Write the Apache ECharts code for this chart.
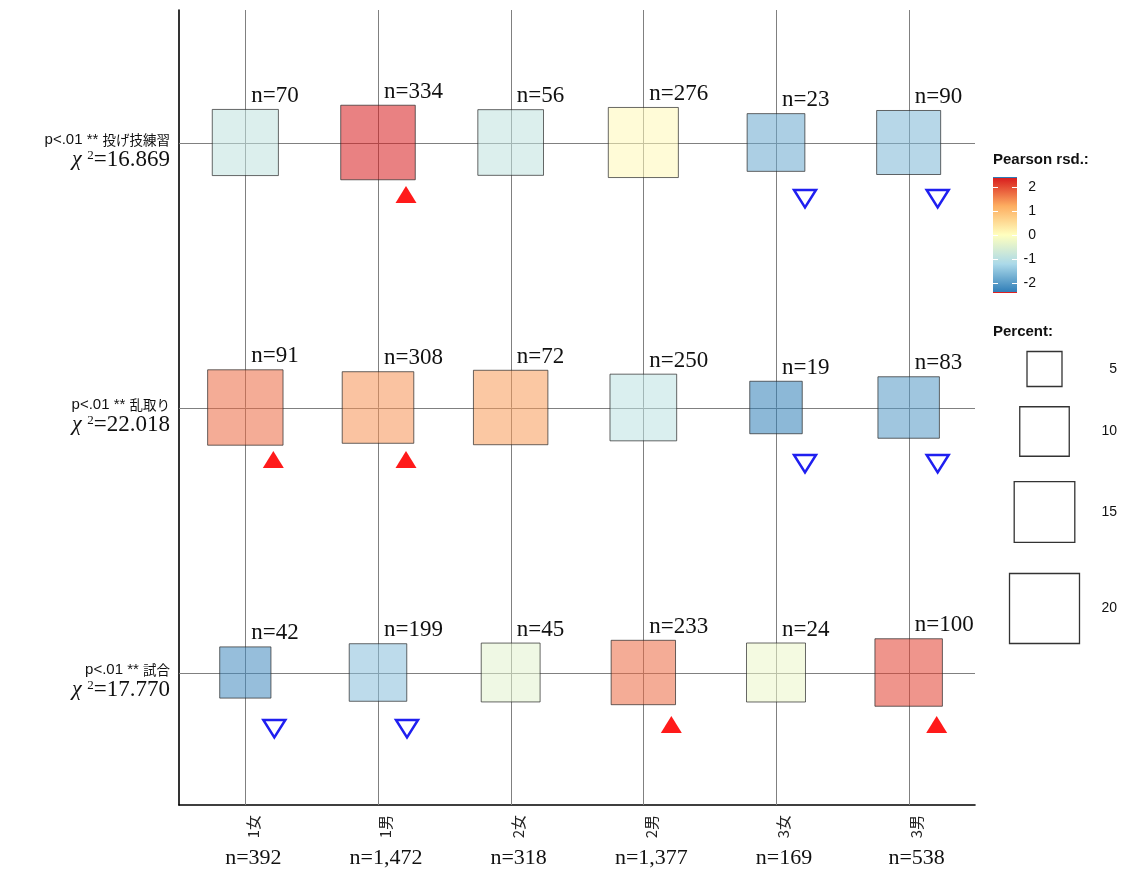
<!DOCTYPE html>
<html>
<head>
<meta charset="utf-8">
<script src="https://cdn.jsdelivr.net/npm/echarts@6/dist/echarts.min.js"></script>
<style>
  html, body { margin: 0; padding: 0; background: #ffffff; }
  #chart { width: 1123px; height: 870px; }
</style>
</head>
<body>
<div id="chart"></div>
<script>
// ---- data ----
const groups = ['1女', '1男', '2女', '2男', '3女', '3男'];
const groupTotals = [392, 1472, 318, 1377, 169, 538];

const items = ['投げ技練習', '乱取り', '試合'];
const itemSignif = ['p<.01 **', 'p<.01 **', 'p<.01 **'];
const itemChiSq = ['16.869', '22.018', '17.770'];

// counts per group for each practice item
const countsPractice = [70, 334, 56, 276, 23, 90];
const countsRandori  = [91, 308, 72, 250, 19, 83];
const countsMatch    = [42, 199, 45, 233, 24, 100];

// Pearson residuals per cell
const residPractice = [-0.91, 2.40, -0.92, 0.12, -1.83, -1.65];
const residRandori  = [1.77, 1.43, 1.36, -0.96, -2.38, -2.04];
const residMatch    = [-2.22, -1.54, -0.42, 1.77, -0.29, 2.10];

// significance markers: 1 = above expected, -1 = below expected, 0 = none
const sigPractice = [0, 1, 0, 0, -1, -1];
const sigRandori  = [1, 1, 0, 0, -1, -1];
const sigMatch    = [-1, -1, 0, 1, 0, 1];

const residTicks = [2, 1, 0, -1, -2];
const percentKeys = [5, 10, 15, 20];

// ---- scales / styling ----
const RESID_LIMIT = 2.4;
const PALETTE = ['#2C7BB6', '#ABD9E9', '#FFFFBF', '#FDAE61', '#D7191C'];
const CELL_SCALE = 15.65;   // px of square side per sqrt(percent)
const CELL_ALPHA = 0.55;
const SERIF = '"Liberation Serif", "DejaVu Serif", serif';
const SANS = '"Liberation Sans", Arial, sans-serif';
const CJK = '"Noto Sans CJK JP", sans-serif';

const countRows = [countsPractice, countsRandori, countsMatch];
const residRows = [residPractice, residRandori, residMatch];
const sigRows = [sigPractice, sigRandori, sigMatch];

const cellData = [];
countRows.forEach((row, r) => {
  row.forEach((n, c) => {
    const pct = n / groupTotals[c] * 100;
    cellData.push([c, r, residRows[r][c], pct, n, sigRows[r][c]]);
  });
});

function renderVGuide(params, api) {
  const cs = params.coordSys;
  const x = Math.round(api.coord([api.value(0), 0])[0]) + 0.5;
  return { type: 'line', shape: { x1: x, y1: cs.y, x2: x, y2: cs.y + cs.height },
           style: { stroke: '#808080', lineWidth: 1 }, silent: true };
}
function renderHGuide(params, api) {
  const cs = params.coordSys;
  const y = Math.round(api.coord([0, api.value(1)])[1]) + 0.5;
  return { type: 'line', shape: { x1: cs.x, y1: y, x2: cs.x + cs.width, y2: y },
           style: { stroke: '#808080', lineWidth: 1 }, silent: true };
}

function renderCell(params, api) {
  const c = api.coord([api.value(0), api.value(1)]);
  const side = CELL_SCALE * Math.sqrt(api.value(3));
  const fill = echarts.color.modifyAlpha(api.visual('color'), CELL_ALPHA);
  const top = c[1] - side / 2;
  const children = [
    { type: 'rect', shape: { x: c[0] - side / 2, y: top, width: side, height: side },
      style: { fill: fill, stroke: 'rgba(40,40,40,0.7)', lineWidth: 1 } },
    { type: 'text', x: c[0] + 6, y: top - 2,
      style: { text: 'n=' + api.value(4), font: '23px ' + SERIF, fill: '#111',
               align: 'left', verticalAlign: 'bottom' } }
  ];
  const sig = api.value(5);
  if (sig > 0) {
    const cx = c[0] + 28, cy = c[1] + 52;
    children.push({ type: 'polygon',
      shape: { points: [[cx - 10.5, cy + 8.5], [cx + 10.5, cy + 8.5], [cx, cy - 8.5]] },
      style: { fill: '#FF1A1A' } });
  } else if (sig < 0) {
    const cx = c[0] + 29, cy = c[1] + 56;
    children.push({ type: 'polygon',
      shape: { points: [[cx - 11, cy - 8.5], [cx + 11, cy - 8.5], [cx, cy + 9]] },
      style: { fill: 'none', stroke: '#1F1FF0', lineWidth: 2.5, lineJoin: 'miter' } });
  }
  return { type: 'group', children: children };
}

// ---- legends (drawn as graphics) ----
const barX = 993, barY = 177, barW = 24, barH = 116;
const gradStops = PALETTE.slice().reverse().map((col, i) => ({ offset: i / (PALETTE.length - 1), color: col }));
const legendGraphics = [
  { type: 'text', x: 993, y: 160, style: { text: 'Pearson rsd.:', font: 'bold 15px ' + SANS, fill: '#111', align: 'left', verticalAlign: 'middle' } },
  { type: 'rect', shape: { x: barX, y: barY, width: barW, height: barH },
    style: { fill: new echarts.graphic.LinearGradient(0, 0, 0, 1, gradStops) } },
  { type: 'line', shape: { x1: barX, y1: barY + 0.5, x2: barX + barW, y2: barY + 0.5 }, style: { stroke: '#2C7BB6', lineWidth: 1 } },
  { type: 'line', shape: { x1: barX, y1: barY + barH - 0.5, x2: barX + barW, y2: barY + barH - 0.5 }, style: { stroke: '#E02020', lineWidth: 1 } }
];
residTicks.forEach(v => {
  const y = Math.round(barY + (RESID_LIMIT - v) / (2 * RESID_LIMIT) * barH) + 0.5;
  legendGraphics.push(
    { type: 'line', shape: { x1: barX, y1: y, x2: barX + 5, y2: y }, style: { stroke: '#ffffff', lineWidth: 1 } },
    { type: 'line', shape: { x1: barX + barW - 5, y1: y, x2: barX + barW, y2: y }, style: { stroke: '#ffffff', lineWidth: 1 } },
    { type: 'text', x: 1036, y: y, style: { text: String(v), font: '14px ' + SANS, fill: '#111', align: 'right', verticalAlign: 'middle' } }
  );
});
legendGraphics.push({ type: 'text', x: 993, y: 332, style: { text: 'Percent:', font: 'bold 15px ' + SANS, fill: '#111', align: 'left', verticalAlign: 'middle' } });
const keyCentersY = [369, 431.5, 512, 608.5];
percentKeys.forEach((p, i) => {
  const s = CELL_SCALE * Math.sqrt(p);
  const cy = keyCentersY[i];
  legendGraphics.push(
    { type: 'rect', shape: { x: 1044.5 - s / 2, y: cy - s / 2, width: s, height: s },
      style: { fill: '#ffffff', stroke: '#333333', lineWidth: 1.3 } },
    { type: 'text', x: 1117, y: cy, style: { text: String(p), font: '14px ' + SANS, fill: '#111', align: 'right', verticalAlign: 'middle' } }
  );
});

const chart = echarts.init(document.getElementById('chart'), null, { renderer: 'canvas' });
chart.setOption({
  animation: false,
  backgroundColor: '#ffffff',
  grid: { left: 179, top: 10, width: 796, height: 795, containLabel: false },
  xAxis: [
    {
      type: 'category', data: groups, boundaryGap: true,
      axisLine: { show: true, lineStyle: { color: '#000', width: 1.6 } },
      axisTick: { show: false }, splitLine: { show: false },
      axisLabel: { rotate: 90, margin: 10, fontSize: 15, fontFamily: CJK, color: '#222', verticalAlign: 'top' }
    },
    {
      type: 'category', data: groups, boundaryGap: true, position: 'bottom',
      axisLine: { show: false }, axisTick: { show: false }, splitLine: { show: false },
      axisLabel: {
        margin: 42, fontSize: 22, fontFamily: SERIF, color: '#111', padding: [0, 0, 0, 16],
        formatter: (v, i) => 'n=' + groupTotals[i].toLocaleString('en-US')
      }
    }
  ],
  yAxis: {
    type: 'category', data: items, inverse: true, boundaryGap: true,
    axisLine: { show: true, lineStyle: { color: '#000', width: 1.6 } },
    axisTick: { show: false }, splitLine: { show: false },
    axisLabel: {
      margin: 9, align: 'right', padding: [16, 0, 0, 0],
      formatter: (v, i) => '{a|' + itemSignif[i] + ' }{j|' + v + '}\n{chi|χ }{sup|2}{num|=' + itemChiSq[i] + '}',
      rich: {
        a: { fontFamily: SANS, fontSize: 15, color: '#111', lineHeight: 18 },
        j: { fontFamily: CJK, fontSize: 13.5, color: '#111', lineHeight: 18 },
        chi: { fontFamily: SERIF, fontStyle: 'italic', fontSize: 22, color: '#111', lineHeight: 21 },
        sup: { fontFamily: SERIF, fontSize: 13, color: '#111', lineHeight: 21, verticalAlign: 'top' },
        num: { fontFamily: SERIF, fontSize: 23, color: '#111', lineHeight: 21 }
      }
    }
  },
  visualMap: {
    show: false, type: 'continuous', seriesIndex: 2, dimension: 2,
    min: -RESID_LIMIT, max: RESID_LIMIT, inRange: { color: PALETTE }
  },
  graphic: legendGraphics,
  series: [
    { type: 'custom', name: 'vguide', renderItem: renderVGuide, data: groups.map((g, i) => [i, 0]), z: 1, silent: true },
    { type: 'custom', name: 'hguide', renderItem: renderHGuide, data: items.map((t, j) => [0, j]), z: 1, silent: true },
    { type: 'custom', name: 'cells', renderItem: renderCell, data: cellData, encode: { x: 0, y: 1 }, z: 3, clip: false }
  ]
});
</script>
</body>
</html>
